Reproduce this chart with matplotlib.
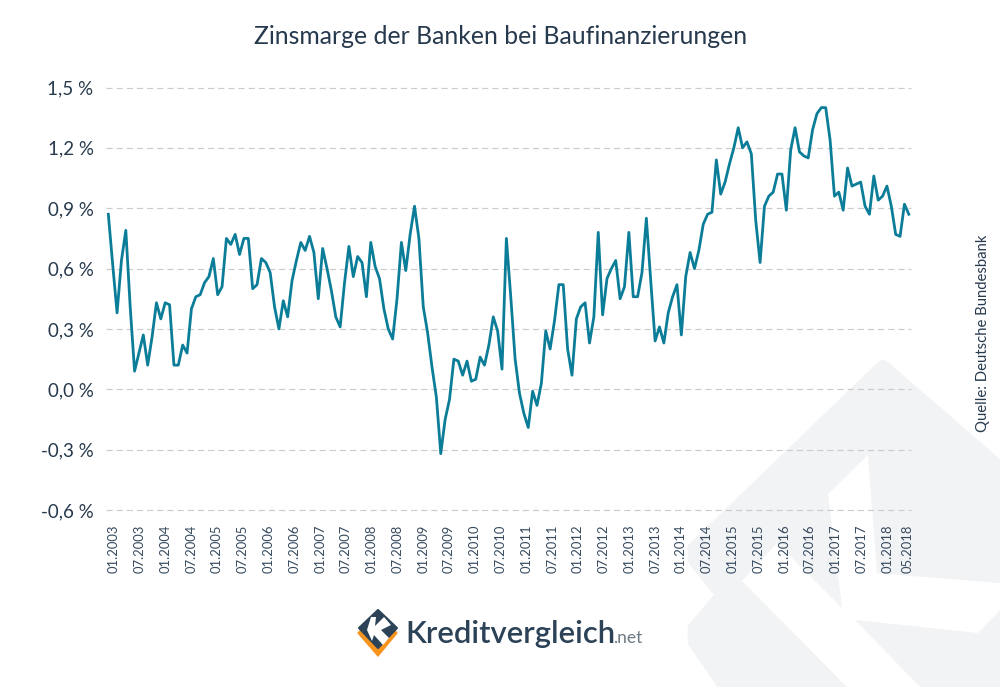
import matplotlib
matplotlib.use('Agg')
import matplotlib.pyplot as plt
from matplotlib.patches import Polygon

plt.rcParams['font.family'] = ['Lato', 'DejaVu Sans']

# --- DATA ---
margin = [
    .87, .62, .38, .64, .79, .41, .09, .18, .27, .12, .26, .43, .35, .43, .42, .12,
    .12, .22, .18, .40, .46, .47, .53, .56, .65, .47, .51, .75, .72, .77, .67, .75,
    .75, .50, .52, .65, .63, .58, .41, .30, .44, .36, .54, .64, .73, .69, .76, .68,
    .45, .70, .60, .49, .36, .31, .53, .71, .56, .66, .63, .46, .73, .61, .55, .40,
    .30, .25, .45, .73, .59, .77, .91, .75, .41, .28, .11, -.04, -.32, -.15, -.05, .15,
    .14, .07, .14, .04, .05, .16, .12, .22, .36, .29, .10, .75, .46, .15, -.02, -.12,
    -.19, -.01, -.08, .03, .29, .20, .34, .52, .52, .20, .07, .35, .41, .43, .23, .36,
    .78, .37, .55, .60, .64, .45, .51, .78, .46, .46, .58, .85, .54, .24, .31, .23,
    .38, .46, .52, .27, .56, .68, .60, .69, .82, .87, .88, 1.14, .97, 1.03, 1.12, 1.20,
    1.30, 1.20, 1.23, 1.17, .84, .63, .91, .96, .98, 1.07, 1.07, .89, 1.19, 1.30, 1.18, 1.16,
    1.15, 1.29, 1.37, 1.40, 1.40, 1.24, .96, .98, .89, 1.10, 1.01, 1.02, 1.03, .91, .87, 1.06,
    .94, .96, 1.01, .91, .77, .76, .92, .87,
]
y_ticks = [-0.6, -0.3, 0.0, 0.3, 0.6, 0.9, 1.2, 1.5]
y_labels = ['-0,6 %', '-0,3 %', '0,0 %', '0,3 %', '0,6 %', '0,9 %', '1,2 %', '1,5 %']
date_labels = [
    '01.2003', '07.2003', '01.2004', '07.2004', '01.2005', '07.2005', '01.2006', '07.2006',
    '01.2007', '07.2007', '01.2008', '07.2008', '01.2009', '07.2009', '01.2010', '07.2010',
    '01.2011', '07.2011', '01.2012', '07.2012', '01.2013', '07.2013', '01.2014', '07.2014',
    '01.2015', '07.2015', '01.2016', '07.2016', '01.2017', '07.2017', '01.2018', '05.2018',
]

DARK = '#26394d'
W, H = 1000, 687

fig = plt.figure(figsize=(W / 100, H / 100), dpi=100, facecolor='white')

# background layer in pixel coordinates (watermark + logo)
bg = fig.add_axes([0, 0, 1, 1], zorder=0)
bg.set_xlim(0, W)
bg.set_ylim(H, 0)
bg.axis('off')

# watermark
bg.add_patch(Polygon([(883, 366), (1010, 476), (1010, 697), (732, 697), (694, 642), (694, 628),
                      (722, 595), (694, 560), (694, 548)],
                     fc='#f2f3f5', ec='#f2f3f5', lw=9, joinstyle='round', clip_on=True))
bg.add_patch(Polygon([(777, 543), (842, 608), (828, 494), (868, 455), (877, 573), (1010, 584),
                      (1010, 600), (978, 633), (855, 620), (925, 692), (852, 692), (742, 581)],
                     fc='white', ec='none'))

# logo
bg.add_patch(Polygon([(358, 633), (378, 614), (397, 633), (378, 656)], fc='#f7941d', ec='#f7941d',
                     lw=1, joinstyle='round'))
bg.add_patch(Polygon([(359, 628), (378, 610), (397, 628), (378, 648)], fc='#2b4257', ec='#2b4257',
                     lw=1.5, joinstyle='round'))
bg.add_patch(Polygon([(367, 630), (371, 617), (376, 617), (375, 626), (384, 617), (391, 625),
                      (381, 630), (389, 638), (383, 645), (374, 635), (372, 641)], fc='white', ec='none'))
bg.text(405, 643, 'Kreditvergleich', fontsize=22.3, color='#2b4257', weight='semibold',
        ha='left', va='baseline')
bg.text(613, 643, '.net', fontsize=12.5, color='#6d7984', ha='left', va='baseline')

# main chart, the axes box is placed on the pixel extent of the gridlines
left, right, top, bottom = 106, 911, 87.5, 510
ax = fig.add_axes([left / W, 1 - bottom / H, (right - left) / W, (bottom - top) / H], zorder=1)
ax.patch.set_alpha(0)

x = list(range(len(margin)))
ax.plot(x, margin, color='#0b7d98', lw=2.0, solid_joinstyle='round', zorder=3, clip_on=False)

ax.set_xlim(-0.53, 183.5)
ax.set_ylim(-0.6, 1.5)
ax.set_yticks(y_ticks)
ax.set_yticklabels(y_labels, fontsize=13.5, color=DARK)

# the labels do not sit exactly on their months in the original
tick_pos = [1.3 + 5.893 * k for k in range(len(date_labels) - 1)] + [182.8]
ax.set_xticks(tick_pos)
ax.set_xticklabels(date_labels, rotation=90, fontsize=9.4, color='#35495e')
ax.tick_params(axis='both', length=0)
ax.tick_params(axis='y', pad=9)
ax.tick_params(axis='x', pad=10.5)

ax.grid(axis='y', color='#cccccc', lw=0.85, dashes=(5.2, 3.4))
ax.set_axisbelow(True)
for s in ax.spines.values():
    s.set_visible(False)
for line in ax.get_ygridlines():
    line.set_clip_on(False)

fig.text(500.5 / W, 1 - 37 / H, 'Zinsmarge der Banken bei Baufinanzierungen', fontsize=17.8,
         color=DARK, ha='center', va='center')
fig.text(983 / W, 1 - 333 / H, 'Quelle: Deutsche Bundesbank', fontsize=10.7, color=DARK, rotation=90,
         ha='center', va='center')

plt.savefig('out.png', dpi=100)
plt.close()
